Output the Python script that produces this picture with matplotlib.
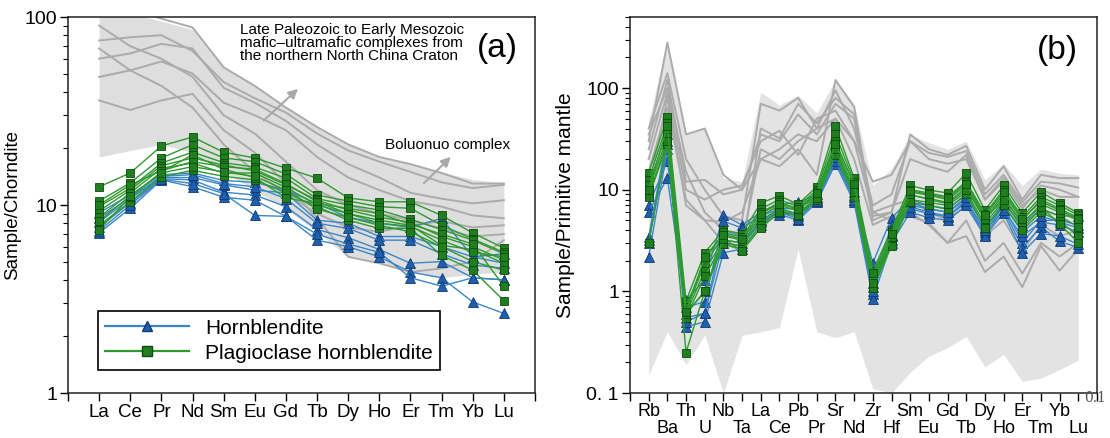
import numpy as np
import matplotlib
matplotlib.use('Agg')
import matplotlib.pyplot as plt
from matplotlib.ticker import FixedLocator, FixedFormatter, NullFormatter, LogLocator

plt.rcParams['font.family'] = ['Liberation Sans', 'DejaVu Sans']

# ---------------- data: chondrite normalised REE (a) ----------------
ree = ['La', 'Ce', 'Pr', 'Nd', 'Sm', 'Eu', 'Gd', 'Tb', 'Dy', 'Ho', 'Er', 'Tm', 'Yb', 'Lu']

hbl_ree = [
    [9.1, 11.3, 14.5, 14.8, 13.5, 13.2, 12.0, 10.2, 8.6, 8.0, 7.6, 8.5, 5.3, 5.5],
    [8.1, 10.8, 14.0, 14.0, 12.8, 12.0, 11.6, 8.3, 8.0, 6.8, 6.8, 6.0, 5.3, 4.9],
    [7.6, 10.3, 13.8, 13.6, 11.7, 11.3, 9.8, 7.4, 6.7, 5.8, 4.9, 5.0, 4.1, 4.0],
    [7.1, 9.6, 13.6, 12.5, 11.0, 10.6, 8.7, 6.5, 6.0, 5.3, 4.4, 4.1, 3.05, 2.65],
    [7.3, 10.0, 13.7, 13.0, 11.5, 8.8, 8.7, 7.0, 6.2, 5.6, 4.1, 3.7, 4.1, 4.0],
    [8.5, 11.0, 14.2, 14.5, 13.0, 12.5, 10.8, 8.0, 7.5, 6.5, 6.5, 5.5, 4.8, 4.6],
]
plhbl_ree = [
    [12.5, 14.8, 20.6, 23.0, 19.1, 17.8, 15.7, 13.9, 10.9, 10.4, 10.4, 8.8, 7.1, 5.9],
    [10.5, 13.1, 17.8, 20.9, 17.8, 17.0, 14.6, 11.3, 10.5, 9.8, 9.6, 7.8, 6.6, 5.6],
    [9.8, 12.3, 16.7, 19.1, 16.8, 15.9, 13.9, 10.8, 10.0, 9.4, 8.4, 7.4, 6.5, 5.5],
    [9.3, 12.0, 16.2, 17.8, 16.3, 15.2, 12.8, 10.6, 9.4, 8.6, 8.1, 6.8, 6.0, 5.1],
    [8.6, 11.6, 15.7, 16.7, 14.8, 14.8, 12.4, 10.0, 9.0, 8.3, 7.8, 6.1, 5.8, 4.9],
    [7.8, 10.4, 14.1, 15.3, 14.2, 13.6, 11.6, 9.8, 8.3, 7.5, 7.5, 5.4, 4.5, 3.1],
    [7.4, 11.0, 15.0, 18.5, 15.5, 14.0, 10.9, 10.2, 9.6, 9.0, 7.9, 7.0, 6.2, 3.7],
    [10.0, 12.8, 15.2, 17.0, 16.0, 15.5, 13.0, 10.4, 9.0, 8.0, 7.7, 6.5, 5.6, 5.3],
    [8.2, 11.2, 14.8, 16.0, 15.0, 14.2, 12.0, 9.5, 8.6, 7.8, 7.2, 6.0, 5.0, 4.5],
]
field_ree_hi = [130, 105, 95, 86, 54, 43, 33, 26, 21, 18, 16.5, 15, 13.6, 13.2]
field_ree_lo = [18, 19.5, 21, 19, 15, 12, 9.5, 7.2, 5.3, 4.9, 4.4, 4.1, 4.3, 4.4]
ref_ree = [
    [130, 110, 98, 88, 54, 43, 33, 26, 21, 18, 16.5, 14.8, 13, 13],
    [75, 78, 80, 66, 45, 37, 31, 24, 19.5, 17, 15, 13.2, 12.3, 12.8],
    [60, 64, 72, 68, 42, 35, 28, 21, 16.5, 14, 11.6, 10.8, 10.2, 10.6],
    [48, 52, 58, 50, 35, 30, 25, 18, 14, 12, 10.5, 9.8, 8.8, 8.5],
    [68, 52, 43, 33, 21, 15, 11.5, 9, 7.6, 7.2, 7.8, 8.2, 7.6, 7.8],
    [36, 32, 36, 39, 25, 19, 13, 8.5, 5.3, 4.9, 4.4, 4.6, 5.0, 6.5],
    [90, 70, 60, 48, 30, 24, 17, 12, 10, 9, 8.3, 7.5, 6.8, 7.0],
]

# ---------------- data: primitive mantle normalised (b) ----------------
pm = ['Rb', 'Ba', 'Th', 'U', 'Nb', 'Ta', 'La', 'Ce', 'Pb', 'Pr', 'Sr', 'Nd',
      'Zr', 'Hf', 'Sm', 'Eu', 'Gd', 'Tb', 'Dy', 'Ho', 'Er', 'Tm', 'Yb', 'Lu']

hbl_pm = [
    [7.1, 19, 0.82, 1.3, 5.6, 4.5, 6.0, 7.2, 7.5, 9.0, 22, 9.5, 1.9, 5.3, 8.0, 7.0, 6.5, 9.0, 4.2, 7.5, 4.5, 6.5, 5.5, 5.5],
    [6.1, 13, 0.7, 0.79, 4.9, 4.2, 5.5, 6.5, 6.5, 8.5, 20, 8.5, 1.2, 4.5, 7.0, 6.5, 6.0, 8.0, 3.8, 7.0, 3.0, 5.0, 5.0, 4.5],
    [3.4, 35, 0.55, 0.61, 4.0, 3.5, 5.0, 6.0, 5.5, 8.0, 19, 8.0, 0.95, 3.5, 6.5, 5.8, 5.4, 7.5, 3.6, 6.4, 2.7, 4.3, 3.1, 2.7],
    [3.0, 30, 0.45, 0.5, 2.4, 2.6, 4.5, 5.7, 5.0, 7.5, 18, 7.5, 0.85, 3.0, 6.0, 5.3, 5.0, 7.0, 3.5, 5.9, 2.4, 3.7, 3.5, 2.9],
    [2.2, 25, 0.5, 0.61, 3.0, 2.8, 4.8, 6.0, 5.2, 7.8, 19, 8.0, 1.0, 3.2, 6.8, 6.0, 5.5, 7.8, 4.0, 6.3, 3.5, 4.8, 4.5, 3.8],
    [3.2, 28, 0.6, 1.0, 3.2, 3.0, 5.0, 6.2, 5.8, 8.2, 21, 8.8, 1.1, 3.6, 7.5, 6.5, 6.0, 8.5, 4.3, 7.2, 3.8, 5.5, 4.8, 4.2],
]
plhbl_pm = [
    [14.6, 52, 0.8, 2.4, 4.0, 3.7, 7.4, 8.7, 7.2, 10.7, 42, 13, 1.6, 4.0, 11, 9.9, 9.3, 14.5, 6.3, 11, 5.9, 9.5, 7.4, 5.9],
    [12.5, 45, 0.7, 2.0, 3.8, 3.4, 6.5, 8.0, 6.8, 10, 35, 12, 1.4, 3.8, 10, 9.3, 8.5, 12, 5.8, 10, 5.4, 8.5, 7.0, 5.6],
    [11, 38, 0.65, 1.85, 3.5, 3.2, 6.0, 7.5, 6.5, 9.5, 30, 11, 1.3, 3.5, 9.5, 8.8, 8.0, 11, 5.3, 9.0, 5.0, 8.0, 6.5, 5.3],
    [10, 33, 0.6, 1.6, 3.2, 3.0, 5.5, 7.0, 6.2, 9.0, 27, 10, 1.2, 3.2, 8.8, 8.2, 7.5, 10.5, 5.0, 8.5, 4.6, 7.2, 6.0, 5.0],
    [9, 30, 0.55, 1.4, 3.0, 2.8, 5.0, 6.5, 5.8, 8.5, 24, 9, 1.1, 3.0, 8.0, 7.5, 7.0, 9.5, 4.6, 7.8, 4.2, 6.5, 5.5, 4.3],
    [8.5, 28, 0.6, 1.0, 2.9, 2.6, 4.5, 6.2, 5.5, 8.0, 22, 8.5, 1.07, 2.8, 7.5, 7.0, 6.4, 9.0, 4.2, 7.0, 4.0, 6.0, 4.9, 3.5],
    [3.0, 30, 0.25, 1.0, 3.3, 2.5, 4.2, 6.0, 5.6, 8.2, 25, 9.5, 1.2, 3.4, 9.0, 8.0, 7.3, 10, 5.2, 8.0, 4.8, 6.8, 4.6, 3.0],
    [10, 42, 0.62, 2.2, 3.6, 3.3, 5.8, 7.3, 6.4, 9.2, 28, 11.5, 1.5, 3.7, 9.8, 9.0, 8.3, 11.5, 5.6, 9.5, 5.2, 7.6, 6.3, 5.1],
]
field_pm_hi = [48, 290, 35, 40, 13, 12, 91, 68, 85, 57, 120, 70, 11, 16, 35, 29, 25, 30, 12.5, 18, 11, 16, 14.5, 14]
field_pm_lo = [0.15, 0.4, 0.19, 0.37, 0.1, 0.37, 0.4, 0.44, 2.6, 0.4, 0.35, 0.4,
               0.11, 0.1, 0.16, 0.23, 0.28, 0.36, 0.18, 0.24, 0.13, 0.14, 0.17, 0.21]
ref_pm = [
    [30, 280, 35, 40, 14, 10, 20, 17, 25, 14, 120, 65, 5.5, 6.0, 35, 25, 22, 27, 10, 17, 8, 14, 13, 13],
    [40, 140, 20, 10, 5.5, 5, 70, 60, 80, 40, 95, 40, 7, 9, 30, 23, 21, 24, 9, 14, 7.5, 12, 11.5, 10.5],
    [25, 120, 12, 12.5, 9, 10, 35, 30, 55, 35, 70, 50, 5, 6, 20, 17, 15, 22, 8, 12, 6.5, 11, 10, 8.5],
    [20, 90, 10, 8, 10, 11, 30, 38, 22, 50, 60, 30, 6, 5, 6, 4.5, 3, 5, 2, 3, 1.5, 3, 2.2, 3],
    [15, 65, 8, 5, 4.8, 6, 20, 25, 35, 30, 50, 20, 4.5, 5.5, 5.5, 4.7, 3.0, 3.5, 1.55, 2.2, 1.1, 2.8, 1.6, 2.6],
    [10, 80, 7, 5, 3, 2.5, 40, 32, 70, 45, 80, 55, 6, 7, 8, 6, 5, 7, 3.5, 5, 2.5, 4.5, 3.5, 4],
    [35, 100, 15, 6, 4, 3, 25, 20, 30, 40, 50, 30, 12, 14, 30, 20, 18, 20, 8, 13, 7, 10, 8.5, 8.5],
]

# ---------------- styles ----------------
blue_line = '#3a86c8'
blue_face = '#1f5fae'
blue_edge = '#0e3a73'
green_line = '#2e9a2e'
green_face = '#1f7f1f'
green_edge = '#0f4a0f'
grey_line = '#ababab'

fig = plt.figure(figsize=(11.1, 4.38), dpi=100)
ax1 = fig.add_axes([68 / 1110, 45 / 438, 467 / 1110, 376 / 438])
ax2 = fig.add_axes([630 / 1110, 45 / 438, 467 / 1110, 376 / 438])


def draw_samples(ax, x, hbl, plhbl):
    for s in hbl:
        ax.plot(x, s, color=blue_line, lw=1.0, marker='^', ms=6.5,
                mfc=blue_face, mec=blue_edge, mew=0.6, zorder=4)
    for s in plhbl:
        ax.plot(x, s, color=green_line, lw=1.0, marker='s', ms=6,
                mfc=green_face, mec=green_edge, mew=0.6, zorder=5)


def style_axis(ax):
    ax.set_yscale('log')
    ax.tick_params(axis='both', which='major', direction='out', length=6, width=1,
                   right=False, top=False)
    ax.tick_params(axis='y', which='minor', direction='out', length=3.5, width=0.8)
    ax.tick_params(axis='x', which='minor', direction='out', length=6, width=1)
    ax.tick_params(axis='x', labelsize=13.5, pad=2)
    ax.tick_params(axis='y', labelsize=14, pad=2)
    for sp in ax.spines.values():
        sp.set_linewidth(1.1)
        sp.set_color('#222222')


# ---------------- panel (a) ----------------
xa = np.arange(len(ree))
ax1.fill_between(xa, field_ree_lo, field_ree_hi, color='#dedede', lw=0, zorder=1)
for s in ref_ree:
    ax1.plot(xa, s, color=grey_line, lw=1.4, zorder=2)
draw_samples(ax1, xa, hbl_ree, plhbl_ree)
style_axis(ax1)
ax1.set_xlim(-1, len(ree))
ax1.set_xticks(xa)
ax1.set_xticklabels(ree)
ax1.set_xticks([-1, len(ree)], minor=True)
ax1.set_ylim(1, 100)
ax1.yaxis.set_major_locator(FixedLocator([1, 10, 100]))
ax1.yaxis.set_major_formatter(FixedFormatter(['1', '10', '100']))
ax1.yaxis.set_minor_formatter(NullFormatter())
ax1.set_ylabel('Sample/Chorndite', fontsize=13.5)
ax1.yaxis.set_label_coords(-0.100, 0.5)

ax1.text(0.368, 0.984, 'Late Paleozoic to Early Mesozoic\nmafic\u2013ultramafic complexes from\nthe northern North China Craton',
         transform=ax1.transAxes, fontsize=11, va='top', ha='left', linespacing=0.93, zorder=6)
ax1.text(0.679, 0.660, 'Boluonuo complex', transform=ax1.transAxes, fontsize=11,
         va='center', ha='left', zorder=6)
ax1.annotate('', xy=(0.497, 0.814), xytext=(0.415, 0.720), xycoords='axes fraction',
             arrowprops=dict(arrowstyle='-|>', color='#a8a8a8', lw=1.5, mutation_scale=14), zorder=6)
ax1.annotate('', xy=(0.824, 0.633), xytext=(0.758, 0.553), xycoords='axes fraction',
             arrowprops=dict(arrowstyle='-|>', color='#a8a8a8', lw=1.5, mutation_scale=14), zorder=6)
ax1.text(0.919, 0.915, '(a)', transform=ax1.transAxes, fontsize=24, ha='center', va='center')

h1, = ax1.plot([], [], color=blue_line, lw=1.6, marker='^', ms=7.5, mfc=blue_face, mec=blue_edge)
h2, = ax1.plot([], [], color=green_line, lw=1.6, marker='s', ms=7, mfc=green_face, mec=green_edge)
leg = ax1.legend([h1, h2], ['Hornblendite', 'Plagioclase hornblendite'], loc='lower left',
                 bbox_to_anchor=(0.064, 0.061), fontsize=15, numpoints=1, handlelength=4.0,
                 handletextpad=0.8, labelspacing=0.3, borderpad=0.35, borderaxespad=0,
                 fancybox=False, framealpha=1)
leg.get_frame().set_edgecolor('black')
leg.get_frame().set_linewidth(1.2)
leg.set_zorder(7)

# ---------------- panel (b) ----------------
xb = np.arange(len(pm))
ax2.fill_between(xb, field_pm_lo, field_pm_hi, color='#e3e3e3', lw=0, zorder=1)
for s in ref_pm:
    ax2.plot(xb, s, color=grey_line, lw=1.4, zorder=2)
draw_samples(ax2, xb, hbl_pm, plhbl_pm)
style_axis(ax2)
ax2.set_xlim(-1, len(pm))
# two rows of element names: even positions on top row, odd ones below
even = xb[::2]
odd = xb[1::2]
ax2.set_xticks(even)
ax2.set_xticklabels(pm[::2])
ax2.set_xticks(list(odd) + [-1, len(pm)], minor=True)
ax2.set_xticklabels(pm[1::2] + ['', ''], minor=True)
ax2.tick_params(axis='x', which='major', labelsize=13, pad=1.5)
ax2.tick_params(axis='x', which='minor', labelsize=13, pad=13.5)
ax2.set_ylim(0.1, 500)
ax2.yaxis.set_major_locator(FixedLocator([0.1, 1, 10, 100]))
ax2.yaxis.set_major_formatter(FixedFormatter(['0. 1', '1', '10', '100']))
ax2.yaxis.set_minor_locator(LogLocator(base=10, subs=np.arange(2, 10)))
ax2.yaxis.set_minor_formatter(NullFormatter())
ax2.set_ylabel('Sample/Primitive mantle', fontsize=15)
ax2.yaxis.set_label_coords(-0.117, 0.5)
ax2.text(0.916, 0.912, '(b)', transform=ax2.transAxes, fontsize=24, ha='center', va='center')

fig.text(1084 / 1110, 1 - 398 / 438, '0.1', family='DejaVu Serif', fontsize=10,
         color='#555555', ha='left', va='center')

fig.savefig('out.png', dpi=100)
